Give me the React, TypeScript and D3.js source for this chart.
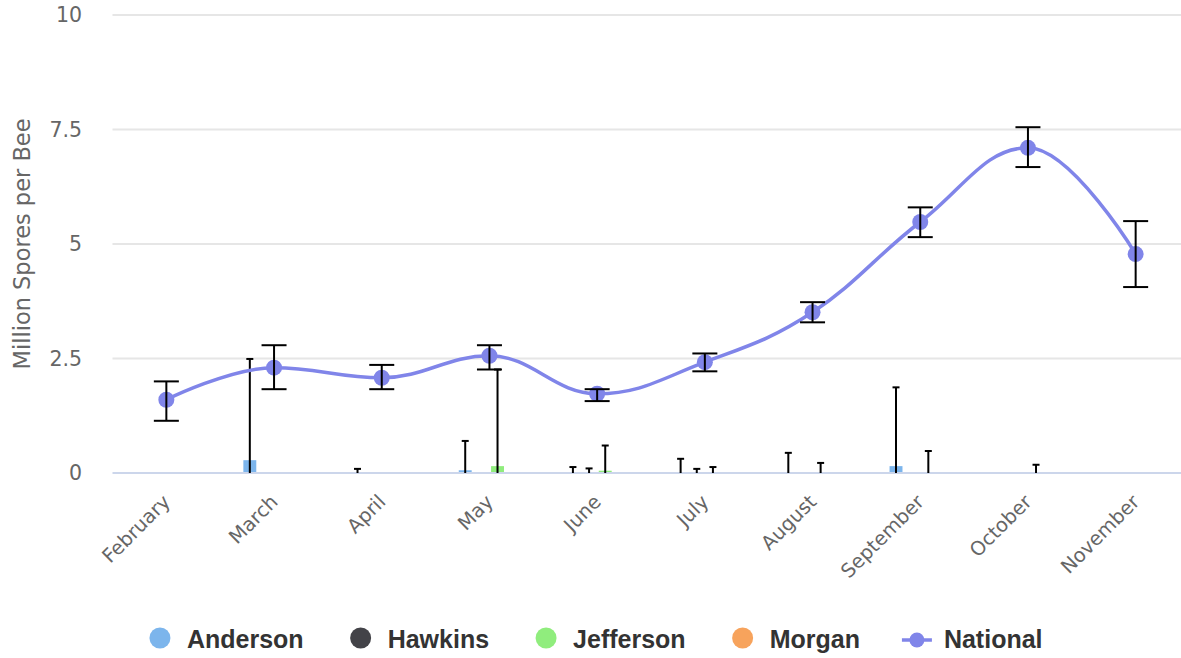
import React, { useEffect, useRef } from "react";
import * as d3 from "d3";

const months = ["February", "March", "April", "May", "June", "July", "August", "September", "October", "November"];

// county columns: mean and top of the error bar (null = no sample that month)
const andersonValues = [null, 0.28, 0, 0.06, 0, 0, 0, 0.15, null, null];
const andersonHigh = [null, 2.49, 0.09, 0.7, 0.13, 0.31, 0.44, 1.87, null, null];
const hawkinsValues = [null, null, null, null, 0, 0, null, null, null, null];
const hawkinsHigh = [null, null, null, null, 0.1, 0.09, null, null, null, null];
const jeffersonValues = [null, null, null, 0.15, 0.05, 0, 0, 0, 0, null];
const jeffersonHigh = [null, null, null, 2.26, 0.6, 0.13, 0.22, 0.48, 0.18, null];
const morganValues = [null, null, null, null, null, null, null, null, null, null];
const morganHigh = [null, null, null, null, null, null, null, null, null, null];

// national average with its error range
const nationalValues = [1.6, 2.3, 2.08, 2.56, 1.73, 2.42, 3.51, 5.48, 7.1, 4.78];
const nationalLow = [1.14, 1.83, 1.83, 2.26, 1.57, 2.22, 3.29, 5.15, 6.68, 4.06];
const nationalHigh = [2.0, 2.79, 2.36, 2.79, 1.83, 2.61, 3.73, 5.8, 7.55, 5.5];

const yTicks = [0, 2.5, 5, 7.5, 10];
const countyNames = ["Anderson", "Hawkins", "Jefferson", "Morgan"];
const lineName = "National";
const colors = ["#7cb5ec", "#434348", "#90ed7d", "#f7a35c", "#8085e9"];

const axisFont = "'DejaVu Sans', 'Lucida Grande', sans-serif";
const legendFont = "'Liberation Sans', Arial, sans-serif";

// same smoothing as a highcharts spline (smoothing 1.5, no false extremes)
function splinePath(pts: [number, number][]) {
  const smoothing = 1.5,
    denom = smoothing + 1;
  let d = "M" + pts[0][0] + "," + pts[0][1];
  let lastRight: [number, number] = pts[0];
  for (let i = 1; i < pts.length; i++) {
    const [px, py] = pts[i];
    let left: [number, number] = [px, py];
    let right: [number, number] = [px, py];
    if (i < pts.length - 1) {
      const [lx, ly] = pts[i - 1];
      const [nx, ny] = pts[i + 1];
      let lcx = (smoothing * px + lx) / denom,
        lcy = (smoothing * py + ly) / denom,
        rcx = (smoothing * px + nx) / denom,
        rcy = (smoothing * py + ny) / denom;
      const corr = ((rcy - lcy) * (rcx - px)) / (rcx - lcx) + py - rcy;
      lcy += corr;
      rcy += corr;
      if (lcy > ly && lcy > py) {
        lcy = Math.max(ly, py);
        rcy = 2 * py - lcy;
      } else if (lcy < ly && lcy < py) {
        lcy = Math.min(ly, py);
        rcy = 2 * py - lcy;
      }
      if (rcy > ny && rcy > py) {
        rcy = Math.max(ny, py);
        lcy = 2 * py - rcy;
      } else if (rcy < ny && rcy < py) {
        rcy = Math.min(ny, py);
        lcy = 2 * py - rcy;
      }
      left = [lcx, lcy];
      right = [rcx, rcy];
    }
    d += "C" + lastRight.join(",") + " " + left.join(",") + " " + px + "," + py;
    lastRight = right;
  }
  return d;
}

const App = () => {
  const ref = useRef<SVGSVGElement>(null);

  useEffect(() => {
    document.body.style.margin = "0";
    const width = 1181,
      height = 658;
    const svg = d3.select(ref.current);
    svg.selectAll("*").remove();
    svg.attr("width", width).attr("height", height);

    const plotLeft = 112.5;
    const x = d3.scaleBand().domain(months).range([plotLeft, plotLeft + 1077]);
    const cx = (m: string) => (x(m) as number) + x.bandwidth() / 2;
    const y = d3.scaleLinear().domain([0, 10]).range([473, 15]);

    // slots for the four county columns inside one month
    const bw = x.bandwidth();
    const x1 = d3
      .scaleBand()
      .domain(countyNames)
      .range([bw * 0.2, bw * 0.8])
      .paddingInner(0.2)
      .paddingOuter(0.1);

    // grid
    svg
      .append("g")
      .selectAll("line")
      .data(yTicks.filter((t) => t > 0))
      .enter()
      .append("line")
      .attr("x1", plotLeft)
      .attr("x2", width)
      .attr("y1", (d) => y(d))
      .attr("y2", (d) => y(d))
      .attr("stroke", "#e6e6e6")
      .attr("stroke-width", 2);

    svg
      .append("g")
      .selectAll("text")
      .data(yTicks)
      .enter()
      .append("text")
      .attr("x", 82)
      .attr("y", (d) => y(d) + 7)
      .attr("text-anchor", "end")
      .attr("fill", "#666666")
      .style("font-family", axisFont)
      .style("font-size", "20.5px")
      .text((d) => String(d));

    svg
      .append("text")
      .attr("transform", "translate(30," + (y(0) + y(10)) / 2 + ") rotate(-90)")
      .attr("text-anchor", "middle")
      .attr("fill", "#666666")
      .style("font-family", axisFont)
      .style("font-size", "22.5px")
      .text("Million Spores per Bee");

    const countyValues = [andersonValues, hawkinsValues, jeffersonValues, morganValues];
    const countyHigh = [andersonHigh, hawkinsHigh, jeffersonHigh, morganHigh];

    type Col = { s: number; m: string; v: number; hi: number | null };
    const cols: Col[] = [];
    countyValues.forEach((vals, s) => {
      vals.forEach((v, i) => {
        if (v !== null) cols.push({ s, m: months[i], v, hi: countyHigh[s][i] });
      });
    });
    const colX = (d: Col) => (x(d.m) as number) + (x1(countyNames[d.s]) as number);

    svg
      .append("g")
      .selectAll("rect")
      .data(cols)
      .enter()
      .append("rect")
      .attr("x", colX)
      .attr("y", (d) => y(d.v))
      .attr("width", x1.bandwidth())
      .attr("height", (d) => y(0) - y(d.v))
      .attr("fill", (d) => colors[d.s]);

    // x axis line
    svg
      .append("line")
      .attr("x1", plotLeft)
      .attr("x2", width)
      .attr("y1", y(0))
      .attr("y2", y(0))
      .attr("stroke", "#ccd6eb")
      .attr("stroke-width", 2);

    // county error bars (only the upper whisker shows above the axis)
    const colErr = svg
      .append("g")
      .selectAll("g")
      .data(cols.filter((d) => d.hi !== null))
      .enter()
      .append("g")
      .attr("stroke", "#000")
      .attr("stroke-width", 2);
    colErr
      .append("line")
      .attr("x1", (d) => colX(d) + x1.bandwidth() / 2)
      .attr("x2", (d) => colX(d) + x1.bandwidth() / 2)
      .attr("y1", y(0))
      .attr("y2", (d) => y(d.hi as number));
    colErr
      .append("line")
      .attr("x1", (d) => colX(d) + x1.bandwidth() / 2 - 3.5)
      .attr("x2", (d) => colX(d) + x1.bandwidth() / 2 + 3.5)
      .attr("y1", (d) => y(d.hi as number))
      .attr("y2", (d) => y(d.hi as number));

    // national spline
    const pts: [number, number][] = nationalValues.map((v, i) => [cx(months[i]), y(v)]);
    svg
      .append("path")
      .attr("d", splinePath(pts))
      .attr("fill", "none")
      .attr("stroke", colors[4])
      .attr("stroke-width", 3.5)
      .attr("stroke-linejoin", "round");

    svg
      .append("g")
      .selectAll("circle")
      .data(pts)
      .enter()
      .append("circle")
      .attr("cx", (d) => d[0])
      .attr("cy", (d) => d[1])
      .attr("r", 8)
      .attr("fill", colors[4]);

    const natErr = svg
      .append("g")
      .selectAll("g")
      .data(months)
      .enter()
      .append("g")
      .attr("stroke", "#000")
      .attr("stroke-width", 2);
    natErr
      .append("line")
      .attr("x1", (m) => cx(m))
      .attr("x2", (m) => cx(m))
      .attr("y1", (m, i) => y(nationalLow[i]))
      .attr("y2", (m, i) => y(nationalHigh[i]));
    [nationalLow, nationalHigh].forEach((arr) => {
      natErr
        .append("line")
        .attr("x1", (m) => cx(m) - 12.5)
        .attr("x2", (m) => cx(m) + 12.5)
        .attr("y1", (m, i) => y(arr[i]))
        .attr("y2", (m, i) => y(arr[i]));
    });

    // rotated month labels
    svg
      .append("g")
      .selectAll("text")
      .data(months)
      .enter()
      .append("text")
      .attr("transform", (m) => "translate(" + (cx(m) + 5) + "," + 503 + ") rotate(-45)")
      .attr("text-anchor", "end")
      .attr("fill", "#666666")
      .style("font-family", axisFont)
      .style("font-size", "19.5px")
      .text((m) => m);

    // legend
    const legendNames = countyNames.concat([lineName]);
    const legend = svg.append("g");
    let cursor = 0;
    legendNames.forEach((name, i) => {
      const item = legend.append("g").attr("transform", "translate(" + cursor + ",0)");
      if (name === lineName) {
        item
          .append("line")
          .attr("x1", -15)
          .attr("x2", 15)
          .attr("y1", 2)
          .attr("y2", 2)
          .attr("stroke", colors[i])
          .attr("stroke-width", 3.5);
        item.append("circle").attr("cx", 0).attr("cy", 2).attr("r", 7.5).attr("fill", colors[i]);
      } else {
        item.append("circle").attr("cx", 0).attr("cy", 0).attr("r", 10.5).attr("fill", colors[i]);
      }
      const t = item
        .append("text")
        .attr("x", 27)
        .attr("y", 10)
        .attr("fill", "#333333")
        .style("font-family", legendFont)
        .style("font-size", "25px")
        .style("font-weight", "bold")
        .text(name);
      const tw = (t.node() as SVGTextElement).getComputedTextLength();
      cursor += 27 + tw + 57;
    });
    const total = cursor - 57 + 10.5;
    legend.attr("transform", "translate(" + (596 - total / 2 + 10.5) + ",638)");
  }, []);

  return <svg ref={ref} style={{ display: "block" }} />;
};

export default App;
